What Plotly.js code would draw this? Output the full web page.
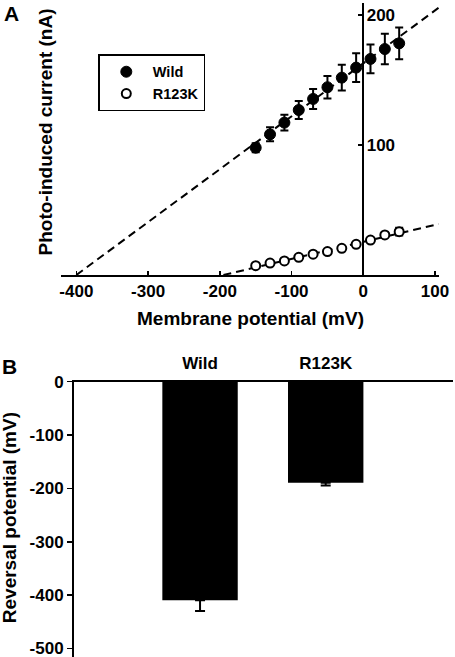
<!DOCTYPE html>
<html>
<head>
<meta charset="utf-8">
<script src="https://cdn.plot.ly/plotly-3.0.1.min.js"></script>
<style>html,body{margin:0;padding:0;background:#fff;}#chart{width:455px;height:657px;}</style>
</head>
<body>
<div id="chart"></div>
<script>
// ---- Panel A data ----
const voltages = [-150, -130, -110, -90, -70, -50, -30, -10, 10, 30, 50];
const wildCurrent = [97.9, 108.2, 117.2, 126.9, 135.4, 144.4, 151.8, 159.5, 166.2, 173.8, 178.2];
const wildSEM = [3.5, 5.4, 6, 7, 7.7, 8.6, 9.9, 11, 11, 11.8, 12.2];
const r123kCurrent = [7.2, 9.2, 10.8, 13.6, 16.0, 18.0, 20.5, 23.6, 26.9, 30.8, 33.3];
const r123kSEM = [0, 0, 0, 0, 0, 0, 0, 0, 0, 1.5, 3];
const wildFitX = [-400, 105];
const wildFitY = [0, 205.5];
const r123kFitX = [-195, 105];
const r123kFitY = [0, 39.2];
const xTickValsA = [-400, -300, -200, -100, 0, 100];
const xTickTextA = ['-400', '-300', '-200', '-100', '0', '100'];
const yTickValsA = [100, 200];
const yTickTextA = ['100', '200'];

// ---- Panel B data ----
const strains = ['Wild', 'R123K'];
const reversalPotential = [-409.5, -189.5];
const reversalSEM = [20.5, 5];
const yTickValsB = [0, -100, -200, -300, -400, -500];
const yTickTextB = ['0', '-100', '-200', '-300', '-400', '-500'];

const W = 455, H = 657;
const bold = {family: 'Liberation Sans, Arial, sans-serif', weight: 'bold', color: 'black'};
const dash = '8px,5px';

const traces = [
  {x: wildFitX, y: wildFitY, mode: 'lines', line: {color: 'black', width: 2, dash: dash},
   showlegend: false, hoverinfo: 'skip', xaxis: 'x', yaxis: 'y'},
  {x: r123kFitX, y: r123kFitY, mode: 'lines', line: {color: 'black', width: 2, dash: dash},
   showlegend: false, hoverinfo: 'skip', xaxis: 'x', yaxis: 'y'},
  {x: voltages, y: wildCurrent, name: 'Wild', mode: 'markers',
   marker: {symbol: 'circle', size: 11, color: 'black', line: {color: 'black', width: 1}},
   error_y: {type: 'data', array: wildSEM, color: 'black', thickness: 2, width: 4},
   xaxis: 'x', yaxis: 'y'},
  {x: voltages, y: r123kCurrent, name: 'R123K', mode: 'markers',
   marker: {symbol: 'circle', size: 9, color: 'white', line: {color: 'black', width: 2}},
   error_y: {type: 'data', array: r123kSEM, color: 'black', thickness: 2, width: 4},
   xaxis: 'x', yaxis: 'y'},
  {x: strains, y: reversalPotential, type: 'bar', width: 0.6,
   marker: {color: 'black', line: {width: 0}}, showlegend: false,
   error_y: {type: 'data', symmetric: false, array: [0, 0], arrayminus: reversalSEM,
             color: 'black', thickness: 2, width: 5},
   xaxis: 'x2', yaxis: 'y2'}
];

const layout = {
  width: W, height: H,
  margin: {l: 0, r: 0, t: 0, b: 0},
  paper_bgcolor: 'white', plot_bgcolor: 'rgba(0,0,0,0)',
  font: {family: 'Liberation Sans, Arial, sans-serif', color: 'black'},
  showlegend: true,
  legend: {x: 98.3 / W, y: 1 - 54.3 / H, xanchor: 'left', yanchor: 'top',
           bordercolor: 'black', borderwidth: 1.5, bgcolor: 'white', itemwidth: 43,
           font: Object.assign({size: 14.5}, bold), tracegroupgap: 0},
  xaxis: {domain: [61 / W, 439 / W], range: [-421.4, 105.5], anchor: 'y',
          showline: true, linecolor: 'black', linewidth: 2,
          ticks: 'inside', ticklen: 4, tickwidth: 1.5, tickcolor: 'black',
          tickvals: xTickValsA, ticktext: xTickTextA,
          tickfont: Object.assign({size: 17}, bold),
          showgrid: false, zeroline: false},
  yaxis: {domain: [1 - 275 / H, 1 - 3 / H], range: [0, 209.2], anchor: 'free',
          position: 363.3 / W, side: 'right',
          showline: true, linecolor: 'black', linewidth: 2,
          ticks: 'inside', ticklen: 4, tickwidth: 1.5, tickcolor: 'black',
          tickvals: yTickValsA, ticktext: yTickTextA, ticklabelstandoff: -1,
          tickfont: Object.assign({size: 17}, bold),
          showgrid: false, zeroline: false},
  xaxis2: {domain: [74 / W, 453 / W], range: [-1.003, 2.013], anchor: 'y2', type: 'category',
           side: 'top', showline: true, linecolor: 'black', linewidth: 2,
           ticks: '', tickfont: Object.assign({size: 17}, bold), ticklabelstandoff: 4,
           showgrid: false, zeroline: false},
  yaxis2: {domain: [0, 1 - 381.7 / H], range: [-516, 0], anchor: 'x2',
           showline: true, linecolor: 'black', linewidth: 2,
           ticks: 'outside', ticklen: 5, tickwidth: 1.5, tickcolor: 'black',
           tickvals: yTickValsB, ticktext: yTickTextB, ticklabeloverflow: 'allow',
           tickfont: Object.assign({size: 17}, bold),
           showgrid: false, zeroline: false},
  annotations: [
    {text: 'A', x: 11.3 / W, y: 1 - 13.3 / H, xref: 'paper', yref: 'paper',
     xanchor: 'center', yanchor: 'middle', showarrow: false, font: Object.assign({size: 21}, bold)},
    {text: 'B', x: 9.7 / W, y: 1 - 366.3 / H, xref: 'paper', yref: 'paper',
     xanchor: 'center', yanchor: 'middle', showarrow: false, font: Object.assign({size: 21}, bold)},
    {text: 'Photo-induced current (nA)', x: 45 / W, y: 1 - 132.5 / H, xref: 'paper', yref: 'paper',
     xanchor: 'center', yanchor: 'middle', textangle: -90, showarrow: false,
     font: Object.assign({size: 19}, bold)},
    {text: 'Membrane potential (mV)', x: 250 / W, y: 1 - 318.3 / H, xref: 'paper', yref: 'paper',
     xanchor: 'center', yanchor: 'middle', showarrow: false,
     font: Object.assign({size: 19}, bold)},
    {text: 'Reversal potential (mV)', x: 9.7 / W, y: 1 - 517.5 / H, xref: 'paper', yref: 'paper',
     xanchor: 'center', yanchor: 'middle', textangle: -90, showarrow: false,
     font: Object.assign({size: 19}, bold)}
  ]
};

Plotly.newPlot('chart', traces, layout, {staticPlot: true, displayModeBar: false});
</script>
</body>
</html>
